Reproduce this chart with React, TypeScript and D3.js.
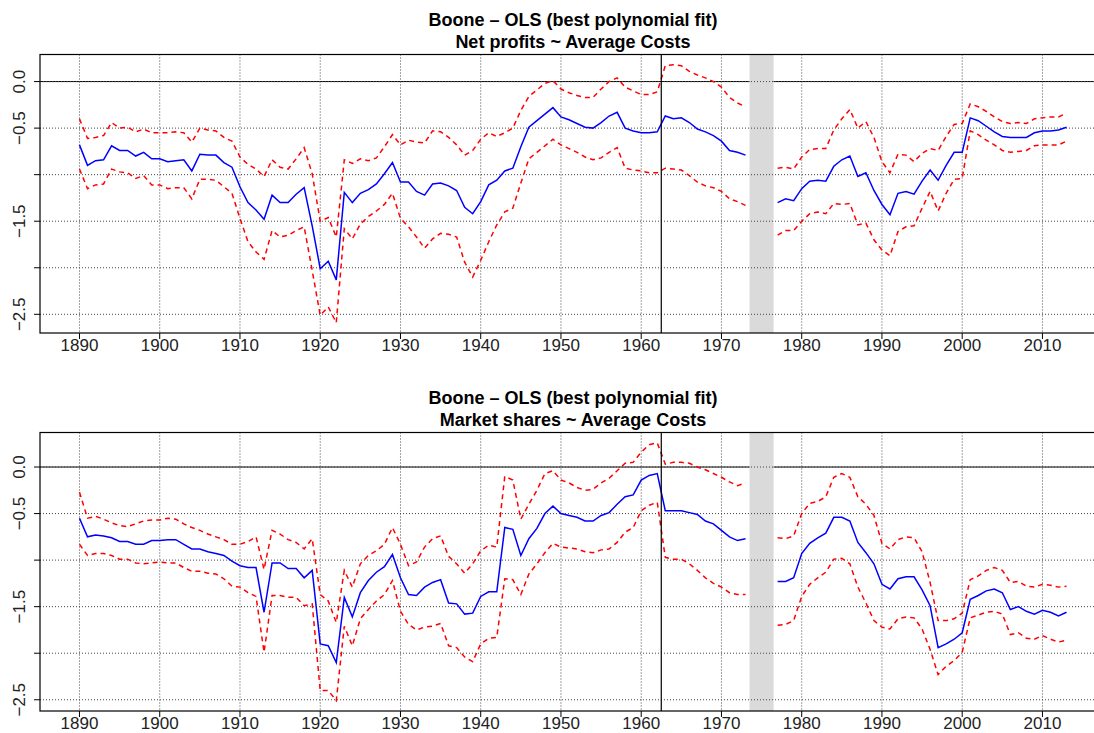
import React, { useEffect, useRef } from "react";
import * as d3 from "d3";

// years 1890..2013, values are null for the 1974-1976 gap
const years = d3.range(1890, 2014);

const npEst = [
  -0.68, -0.9, -0.85, -0.84, -0.69, -0.74, -0.74, -0.8, -0.76, -0.83,
  -0.83, -0.86, -0.85, -0.84, -0.96, -0.78, -0.79, -0.79, -0.87, -0.92,
  -1.13, -1.3, -1.38, -1.48, -1.22, -1.3, -1.3, -1.21, -1.14, -1.55,
  -2.01, -1.93, -2.13, -1.19, -1.3, -1.2, -1.16, -1.1, -0.99, -0.87,
  -1.08, -1.08, -1.18, -1.22, -1.1, -1.09, -1.12, -1.17, -1.35, -1.42,
  -1.29, -1.11, -1.06, -0.96, -0.93, -0.7, -0.49, -0.42, -0.35, -0.28,
  -0.38, -0.41, -0.45, -0.49, -0.5, -0.44, -0.37, -0.33, -0.5, -0.53,
  -0.55, -0.55, -0.54, -0.37, -0.4, -0.39, -0.44, -0.51, -0.54, -0.58,
  -0.64, -0.74, -0.76, -0.79,
  null, null, null,
  -1.3, -1.26, -1.28, -1.15, -1.07, -1.06, -1.07, -0.91, -0.84, -0.8,
  -1.02, -0.98, -1.17, -1.32, -1.43, -1.2, -1.18, -1.21, -1.07, -0.95,
  -1.06, -0.9, -0.76, -0.76, -0.39, -0.42, -0.48, -0.54, -0.59, -0.6,
  -0.6, -0.6, -0.55, -0.53, -0.53, -0.52, -0.49,
];

const npUpper = [
  -0.4, -0.61, -0.6, -0.58, -0.44, -0.5, -0.49, -0.54, -0.51, -0.55,
  -0.55, -0.55, -0.54, -0.55, -0.65, -0.5, -0.52, -0.53, -0.6, -0.64,
  -0.81, -0.89, -0.94, -1.02, -0.84, -0.92, -0.94, -0.83, -0.71, -0.99,
  -1.5, -1.46, -1.67, -0.84, -0.88, -0.83, -0.85, -0.82, -0.7, -0.57,
  -0.68, -0.63, -0.65, -0.66, -0.53, -0.54, -0.6, -0.68, -0.79, -0.74,
  -0.62, -0.55, -0.59, -0.55, -0.5, -0.31, -0.16, -0.09, -0.02, 0.01,
  -0.08, -0.12, -0.15, -0.17, -0.17, -0.08, 0.0, 0.04, -0.06, -0.1,
  -0.14, -0.14, -0.11, 0.17, 0.18, 0.17, 0.11, 0.07, 0.04, 0.0,
  -0.06, -0.17, -0.23, -0.27,
  null, null, null,
  -0.93, -0.92, -0.94, -0.81, -0.73, -0.72, -0.72, -0.52, -0.4, -0.3,
  -0.5, -0.43, -0.6, -0.86, -0.98, -0.78, -0.79, -0.86, -0.77, -0.72,
  -0.74, -0.59, -0.46, -0.45, -0.24, -0.27, -0.32, -0.38, -0.43, -0.45,
  -0.44, -0.45, -0.4, -0.39, -0.38, -0.38, -0.34,
];

const npLower = [
  -0.94, -1.15, -1.11, -1.1, -0.94, -0.97, -0.98, -1.04, -1.01, -1.11,
  -1.11, -1.15, -1.14, -1.14, -1.26, -1.05, -1.05, -1.06, -1.13, -1.2,
  -1.47, -1.72, -1.83, -1.91, -1.6, -1.67, -1.65, -1.6, -1.56, -2.03,
  -2.51, -2.42, -2.59, -1.58, -1.69, -1.53, -1.45, -1.39, -1.32, -1.2,
  -1.47, -1.56, -1.67, -1.79, -1.69, -1.63, -1.64, -1.67, -1.94, -2.1,
  -1.92, -1.72, -1.54, -1.4, -1.36, -1.09, -0.83, -0.76, -0.69, -0.62,
  -0.68, -0.72, -0.76, -0.81, -0.84, -0.82, -0.76, -0.71, -0.93, -0.95,
  -0.96, -0.98, -0.98, -0.93, -0.94, -0.95, -1.01, -1.08, -1.12, -1.14,
  -1.18, -1.26, -1.29, -1.33,
  null, null, null,
  -1.65, -1.6, -1.6, -1.5, -1.42, -1.4, -1.42, -1.31, -1.32, -1.31,
  -1.54, -1.52, -1.7, -1.81, -1.87, -1.61, -1.56, -1.55, -1.36, -1.18,
  -1.39, -1.2, -1.05, -1.04, -0.53, -0.57, -0.63, -0.68, -0.74, -0.76,
  -0.75, -0.74, -0.69, -0.68, -0.68, -0.68, -0.64,
];

const msEst = [
  -0.55, -0.75, -0.73, -0.74, -0.76, -0.8, -0.8, -0.83, -0.83, -0.79,
  -0.79, -0.78, -0.78, -0.83, -0.88, -0.88, -0.91, -0.93, -0.95, -1.01,
  -1.06, -1.08, -1.08, -1.56, -1.03, -1.03, -1.09, -1.09, -1.19, -1.11,
  -1.9, -1.92, -2.1, -1.4, -1.61, -1.35, -1.22, -1.13, -1.07, -0.94,
  -1.19, -1.37, -1.38, -1.29, -1.24, -1.21, -1.46, -1.47, -1.58, -1.57,
  -1.39, -1.34, -1.34, -0.65, -0.67, -0.95, -0.77, -0.66, -0.5, -0.42,
  -0.5, -0.52, -0.54, -0.58, -0.58, -0.52, -0.49, -0.4, -0.32, -0.3,
  -0.14, -0.09, -0.07, -0.47, -0.47, -0.47, -0.49, -0.51, -0.58, -0.61,
  -0.68, -0.75, -0.79, -0.77,
  null, null, null,
  -1.23, -1.23, -1.19, -0.93, -0.82, -0.76, -0.71, -0.54, -0.54, -0.58,
  -0.81, -0.92, -1.04, -1.26, -1.31, -1.2, -1.18, -1.18, -1.32, -1.49,
  -1.94, -1.9, -1.85, -1.78, -1.42, -1.38, -1.33, -1.31, -1.35, -1.53,
  -1.5, -1.55, -1.58, -1.54, -1.56, -1.6, -1.56,
];

const msUpper = [
  -0.27, -0.55, -0.53, -0.56, -0.6, -0.63, -0.64, -0.61, -0.58, -0.57,
  -0.57, -0.55, -0.56, -0.61, -0.65, -0.68, -0.72, -0.75, -0.78, -0.83,
  -0.83, -0.8, -0.75, -1.1, -0.68, -0.72, -0.78, -0.81, -0.88, -0.77,
  -1.37, -1.44, -1.67, -1.11, -1.29, -1.04, -0.95, -0.9, -0.83, -0.65,
  -0.83, -1.06, -1.02, -0.86, -0.77, -0.74, -0.96, -1.04, -1.14, -1.04,
  -0.9, -0.84, -0.86, -0.1, -0.14, -0.56, -0.4, -0.25, -0.07, -0.04,
  -0.14, -0.17, -0.22, -0.25, -0.24, -0.17, -0.12, -0.04, 0.04, 0.05,
  0.16, 0.24, 0.26, 0.03, 0.05, 0.05, 0.04, 0.0, -0.03, -0.07,
  -0.11, -0.16, -0.2, -0.17,
  null, null, null,
  -0.76, -0.77, -0.74, -0.5, -0.39, -0.37, -0.32, -0.11, -0.07, -0.11,
  -0.32, -0.4, -0.52, -0.82, -0.88, -0.78, -0.75, -0.76, -0.91, -1.24,
  -1.65, -1.65, -1.63, -1.57, -1.21, -1.17, -1.11, -1.08, -1.11, -1.24,
  -1.23, -1.28, -1.29, -1.26, -1.27, -1.29, -1.28,
];

const msLower = [
  -0.83, -0.95, -0.93, -0.93, -0.95, -0.99, -0.99, -1.03, -1.04, -1.03,
  -1.02, -1.03, -1.03, -1.08, -1.12, -1.12, -1.14, -1.15, -1.2, -1.28,
  -1.29, -1.35, -1.39, -1.99, -1.38, -1.38, -1.4, -1.4, -1.49, -1.47,
  -2.4, -2.4, -2.51, -1.71, -1.92, -1.63, -1.53, -1.44, -1.37, -1.22,
  -1.55, -1.69, -1.75, -1.72, -1.71, -1.68, -1.92, -1.94, -2.04, -2.09,
  -1.9, -1.84, -1.83, -1.2, -1.21, -1.37, -1.15, -1.04, -0.92, -0.82,
  -0.86, -0.87, -0.88, -0.91, -0.92, -0.89, -0.88, -0.81, -0.7, -0.65,
  -0.47, -0.41, -0.38, -0.97, -0.99, -0.99, -1.04, -1.11, -1.19, -1.25,
  -1.29, -1.35, -1.37, -1.37,
  null, null, null,
  -1.7, -1.69, -1.65, -1.39, -1.26, -1.19, -1.13, -0.99, -0.98, -1.04,
  -1.29, -1.46, -1.65, -1.72, -1.74, -1.63, -1.61, -1.62, -1.74, -1.96,
  -2.23, -2.14, -2.08, -1.99, -1.62, -1.59, -1.56, -1.55, -1.58, -1.8,
  -1.78, -1.84, -1.85, -1.81, -1.85, -1.88, -1.86,
];

const mainTitle = "Boone \u2013 OLS (best polynomial fit)";
const npSubtitle = "Net profits ~ Average Costs";
const msSubtitle = "Market shares ~ Average Costs";

const xTicks = [1890, 1900, 1910, 1920, 1930, 1940, 1950, 1960, 1970, 1980, 1990, 2000, 2010];
const yTicks = [0, -0.5, -1, -1.5, -2, -2.5];
const yTickLabels = [0, -0.5, -1.5, -2.5];
const gapYears = [1973.5, 1976.5];
const breakYear = 1962.5;

const font = "'Liberation Sans', Arial, Helvetica, sans-serif";

function drawPanel(svg, est, upper, lower, subtitle, top) {
  const left = 40;
  const right = 1106;
  const bottom = top + 278.5;

  // R style axis ranges: data extent + 4% each side
  const xSpan = years[years.length - 1] - years[0];
  const x = d3
    .scaleLinear()
    .domain([years[0] - xSpan * 0.04, years[years.length - 1] + xSpan * 0.04])
    .range([left, right]);

  const vals = [...upper, ...lower].filter((v) => v != null);
  const lo = d3.min(vals);
  const hi = d3.max(vals);
  const pad = (hi - lo) * 0.04;
  const y = d3.scaleLinear().domain([lo - pad, hi + pad]).range([bottom, top]);

  const g = svg.append("g");

  // zero line, then the gap band over it
  g.append("line")
    .attr("x1", left).attr("x2", right)
    .attr("y1", y(0)).attr("y2", y(0))
    .attr("stroke", "#000").attr("stroke-width", 1);

  g.append("rect")
    .attr("x", x(gapYears[0]))
    .attr("y", top)
    .attr("width", x(gapYears[1]) - x(gapYears[0]))
    .attr("height", bottom - top)
    .attr("fill", "#dadada");

  // dotted grid
  g.selectAll(".gx")
    .data(xTicks)
    .enter()
    .append("line")
    .attr("x1", (d) => x(d)).attr("x2", (d) => x(d))
    .attr("y1", top).attr("y2", bottom)
    .attr("stroke", "#444").attr("stroke-dasharray", "1,2");

  g.selectAll(".gy")
    .data(yTicks)
    .enter()
    .append("line")
    .attr("x1", left).attr("x2", right)
    .attr("y1", (d) => y(d)).attr("y2", (d) => y(d))
    .attr("stroke", "#444").attr("stroke-dasharray", "1,2");

  const line = d3
    .line()
    .defined((d) => d != null)
    .x((d, i) => x(years[i]))
    .y((d) => y(d));

  [upper, lower].forEach((s) => {
    g.append("path")
      .datum(s)
      .attr("fill", "none")
      .attr("stroke", "#ff0000")
      .attr("stroke-width", 1.5)
      .attr("stroke-dasharray", "5,4")
      .attr("d", line);
  });

  g.append("path")
    .datum(est)
    .attr("fill", "none")
    .attr("stroke", "#0000ff")
    .attr("stroke-width", 1.5)
    .attr("d", line);

  g.append("line")
    .attr("x1", x(breakYear)).attr("x2", x(breakYear))
    .attr("y1", top).attr("y2", bottom)
    .attr("stroke", "#000").attr("stroke-width", 1.2);

  // box
  g.append("rect")
    .attr("x", left).attr("y", top)
    .attr("width", right - left).attr("height", bottom - top)
    .attr("fill", "none").attr("stroke", "#000").attr("stroke-width", 1.2);

  // x axis
  g.selectAll(".tx")
    .data(xTicks)
    .enter()
    .append("line")
    .attr("x1", (d) => x(d)).attr("x2", (d) => x(d))
    .attr("y1", bottom).attr("y2", bottom + 6)
    .attr("stroke", "#000");

  g.selectAll(".lx")
    .data(xTicks)
    .enter()
    .append("text")
    .attr("x", (d) => x(d))
    .attr("y", bottom + 18)
    .attr("text-anchor", "middle")
    .attr("font-family", font)
    .attr("font-size", 17)
    .attr("fill", "#222")
    .text((d) => d);

  // y axis
  g.selectAll(".ty")
    .data(yTicks)
    .enter()
    .append("line")
    .attr("x1", left - 6).attr("x2", left)
    .attr("y1", (d) => y(d)).attr("y2", (d) => y(d))
    .attr("stroke", "#000");

  g.selectAll(".ly")
    .data(yTickLabels)
    .enter()
    .append("text")
    .attr("transform", (d) => `translate(25, ${y(d)}) rotate(-90)`)
    .attr("text-anchor", "middle")
    .attr("font-family", font)
    .attr("font-size", 17)
    .attr("fill", "#222")
    .text((d) => (d < 0 ? "\u2212" + Math.abs(d).toFixed(1) : d.toFixed(1)));

  // title
  const cx = (left + right) / 2;
  g.append("text")
    .attr("x", cx).attr("y", top - 29)
    .attr("text-anchor", "middle")
    .attr("font-family", font)
    .attr("font-weight", "bold")
    .attr("font-size", 18)
    .text(mainTitle);
  g.append("text")
    .attr("x", cx).attr("y", top - 6.5)
    .attr("text-anchor", "middle")
    .attr("font-family", font)
    .attr("font-weight", "bold")
    .attr("font-size", 18)
    .text(subtitle);
}

const App = () => {
  const svgRef = useRef(null);

  useEffect(() => {
    const svg = d3.select(svgRef.current);
    svg.selectAll("*").remove();
    drawPanel(svg, npEst, npUpper, npLower, npSubtitle, 54.5);
    drawPanel(svg, msEst, msUpper, msLower, msSubtitle, 432.5);
  }, []);

  return (
    <svg
      ref={svgRef}
      width={1094}
      height={733}
      style={{ position: "absolute", left: 0, top: 0, background: "#fff" }}
    ></svg>
  );
};

export default App;
